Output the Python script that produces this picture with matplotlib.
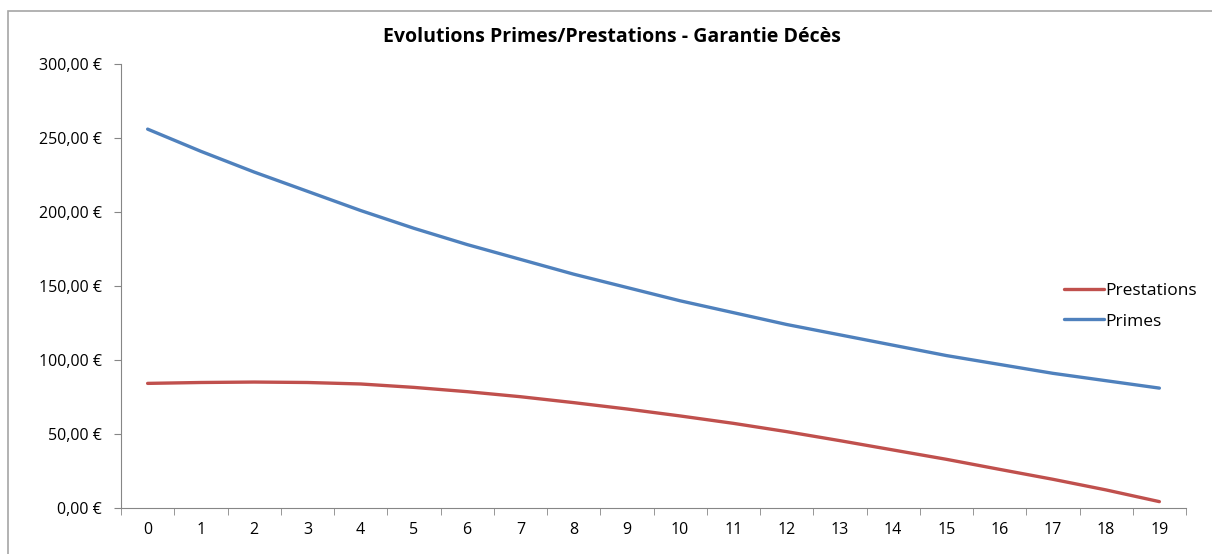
import numpy as np
import matplotlib
matplotlib.use("Agg")
import matplotlib.pyplot as plt
from matplotlib.patches import Rectangle

plt.rcParams['font.family'] = ['Open Sans', 'DejaVu Sans']

annees = list(range(20))
primes = [256, 241, 227, 214, 201, 189, 178, 168, 158, 149,
          140, 132, 124, 117, 110, 103, 97, 91, 86, 81]
prestations = [84.2, 84.8, 85.1, 84.8, 83.8, 81.5, 78.6, 75.2, 71.2, 66.9,
               62.2, 57.2, 51.6, 45.5, 39.2, 32.9, 26.1, 19.4, 12.2, 4.3]
yticks = [0, 50, 100, 150, 200, 250, 300]

fig = plt.figure(figsize=(12.12, 5.54), dpi=100)
ax = fig.add_axes([121/1212, 46/554, (1186-121)/1212, (508-64)/554])

# cadre gris (coupé à droite et en bas dans l'original)
fig.patches.append(Rectangle((7.5/1212, -10/554), 1220/1212, (554 + 10 - 11)/554,
                             transform=fig.transFigure, fill=False,
                             edgecolor='#a6a6a6', linewidth=1.2))

ax.plot(annees, prestations, color='#C0504D', linewidth=2.4, label='Prestations',
        solid_capstyle='round')
ax.plot(annees, primes, color='#4F81BD', linewidth=2.4, label='Primes',
        solid_capstyle='round')

ax.set_xlim(-0.5, 19.5)
ax.set_ylim(0, 300)
ax.set_yticks(yticks)
ax.set_yticklabels([f"{v:.2f}".replace('.', ',') + ' €' for v in yticks], fontsize=11.5)
ax.set_xticks(annees)
ax.set_xticklabels([str(a) for a in annees], fontsize=11.5)
ax.set_xticks(np.arange(-0.5, 20, 1), minor=True)
ax.tick_params(axis='x', which='major', length=0, pad=10)
ax.tick_params(axis='x', which='minor', length=5, color='#868686')
ax.tick_params(axis='y', length=5, color='#868686', pad=9)

for s in ['top', 'right']:
    ax.spines[s].set_visible(False)
for s in ['left', 'bottom']:
    ax.spines[s].set_color('#868686')

fig.text(612/1212, 1 - 37/554, 'Evolutions Primes/Prestations - Garantie Décès',
         ha='center', va='center', fontsize=14, fontweight='bold')

ax.legend(loc='center left', bbox_to_anchor=(1048/1212, 1 - 306/554),
          bbox_transform=fig.transFigure, frameon=False, fontsize=12.5,
          handlelength=2.3, handletextpad=0.1, labelspacing=0.85)

fig.savefig('out.png', dpi=100)
